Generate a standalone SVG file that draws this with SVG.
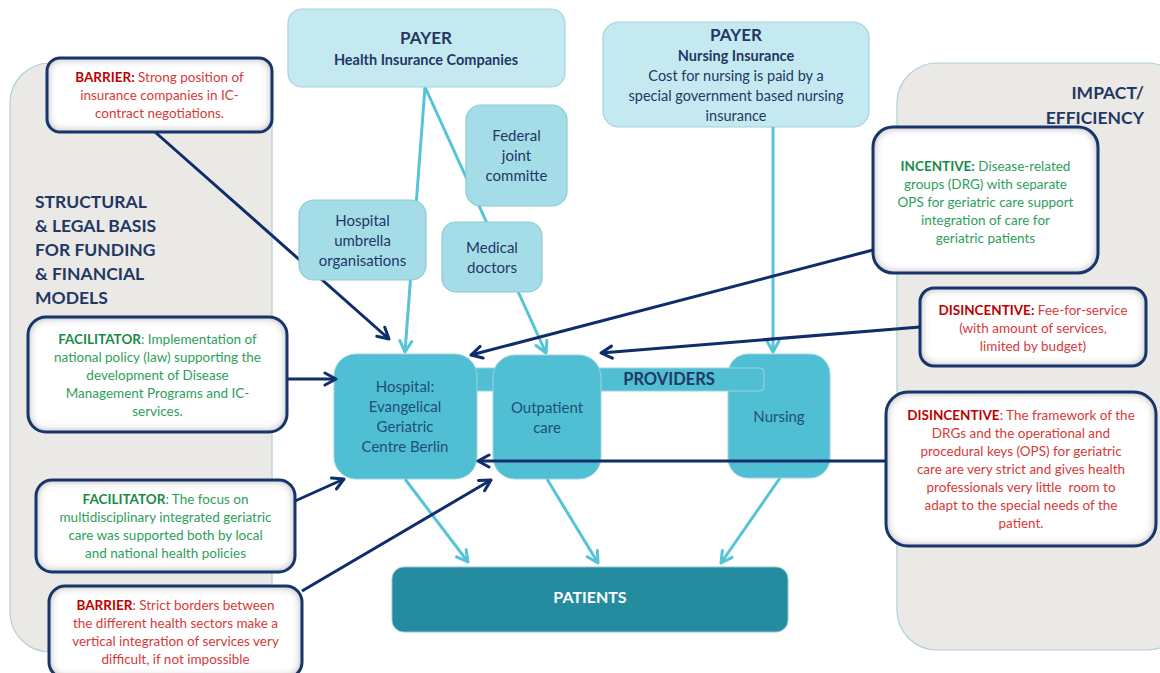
<svg xmlns="http://www.w3.org/2000/svg" width="1160" height="673" viewBox="0 0 1160 673">
<defs>
<style>
text{font-family:Lato,"Liberation Sans",sans-serif;}
.panel{fill:#EBE9E6;stroke:#AFD0D8;stroke-width:1.2;}
.payer{fill:#C5E9F1;stroke:#A3D3DE;stroke-width:1.2;}
.mid{fill:#A4DDE8;stroke:#8DC9D6;stroke-width:1.2;}
.prov{fill:#50BFD3;stroke:#9CD3DE;stroke-width:1;}
.pat{fill:#258C9F;stroke:#8CC6D2;stroke-width:1;}
.note{fill:#FFFFFF;filter:url(#inset);}
.noteb{fill:none;stroke:#17346B;stroke-width:3;}
.navy{fill:#1F3864;}
.pv{fill:#1F4E79;font-size:15px;}
.red{fill:#D63A3A;font-size:13.5px;}
.redb{fill:#C00000;font-weight:bold;}
.grn{fill:#2E9E5B;font-size:13.5px;}
.grnb{fill:#1B8A48;font-weight:bold;}
.lt{stroke:#55C3D8;stroke-width:3;fill:none;marker-end:url(#ah-lt);}
.dk{stroke:#0F2D6B;stroke-width:3;fill:none;marker-end:url(#ah-dk);}
</style>
<filter id="inset" x="-10%" y="-10%" width="120%" height="120%">
<feFlood flood-color="#7A7A7A" result="f"/>
<feComposite in="f" in2="SourceAlpha" operator="out" result="o"/>
<feGaussianBlur in="o" stdDeviation="5" result="b"/>
<feComposite in="b" in2="SourceAlpha" operator="in" result="s"/>
<feMerge><feMergeNode in="SourceGraphic"/><feMergeNode in="s"/></feMerge>
</filter>
<marker id="ah-lt" viewBox="0 0 16 16" refX="14" refY="8" markerWidth="16" markerHeight="16" markerUnits="userSpaceOnUse" orient="auto">
<path d="M3,2 L14,8 L3,14" fill="none" stroke="#55C3D8" stroke-width="3" stroke-linecap="round" stroke-linejoin="round"/>
</marker>
<marker id="ah-dk" viewBox="0 0 16 16" refX="14" refY="8" markerWidth="16" markerHeight="16" markerUnits="userSpaceOnUse" orient="auto">
<path d="M3,2 L14,8 L3,14" fill="none" stroke="#0F2D6B" stroke-width="3" stroke-linecap="round" stroke-linejoin="round"/>
</marker>
</defs>
<rect width="1160" height="673" fill="#FFFFFF"/>

<g id="panel-left">
<rect class="panel" x="10" y="63" width="262" height="589" rx="40"/>
<text class="navy" font-size="17.5" font-weight="bold"><tspan x="35" y="208">STRUCTURAL</tspan><tspan x="35" y="232">&amp; LEGAL BASIS</tspan><tspan x="35" y="256">FOR FUNDING</tspan><tspan x="35" y="280">&amp; FINANCIAL</tspan><tspan x="35" y="304">MODELS</tspan></text>
</g>
<g id="panel-right">
<rect class="panel" x="897" y="63" width="290" height="587" rx="40"/>
<text class="navy" font-size="17.5" font-weight="bold" text-anchor="end"><tspan x="1144" y="99">IMPACT/</tspan><tspan x="1144" y="124">EFFICIENCY</tspan></text>
</g>

<g id="connectors-back">
<line class="lt" x1="425" y1="87" x2="405" y2="352"/>
<line class="lt" x1="425" y1="87" x2="546" y2="353"/>
<line class="dk" x1="155" y1="132" x2="389" y2="339"/>
</g>

<g id="payer-health">
<rect class="payer" x="288" y="9" width="277" height="78" rx="14"/>
<text class="navy" text-anchor="middle" font-weight="bold"><tspan x="426" y="44" font-size="17">PAYER</tspan><tspan x="426" y="65" font-size="14.5">Health Insurance Companies</tspan></text>
</g>
<g id="payer-nursing">
<rect class="payer" x="603" y="22" width="266" height="105" rx="16"/>
<text class="navy" text-anchor="middle"><tspan x="736" y="41" font-size="17" font-weight="bold">PAYER</tspan><tspan x="736" y="61" font-size="14.5" font-weight="bold">Nursing Insurance</tspan><tspan x="736" y="81" font-size="14.5">Cost for nursing is paid by a</tspan><tspan x="736" y="101" font-size="14.5">special government based nursing</tspan><tspan x="736" y="121" font-size="14.5">insurance</tspan></text>
</g>
<g id="federal">
<rect class="mid" x="466" y="105" width="101" height="101" rx="15"/>
<text class="navy" text-anchor="middle" font-size="15"><tspan x="516.5" y="141">Federal</tspan><tspan x="516.5" y="161">joint</tspan><tspan x="516.5" y="181">committe</tspan></text>
</g>
<g id="umbrella">
<rect class="mid" x="299" y="200" width="127" height="80" rx="15"/>
<text class="navy" text-anchor="middle" font-size="15"><tspan x="362.5" y="226">Hospital</tspan><tspan x="362.5" y="246">umbrella</tspan><tspan x="362.5" y="266">organisations</tspan></text>
</g>
<g id="medical">
<rect class="mid" x="442" y="222" width="100" height="70" rx="14"/>
<text class="navy" text-anchor="middle" font-size="15"><tspan x="492" y="253">Medical</tspan><tspan x="492" y="273">doctors</tspan></text>
</g>

<g id="nursing">
<rect class="prov" x="728" y="354" width="102" height="124" rx="20"/>
<text class="pv" text-anchor="middle" x="779" y="422">Nursing</text>
</g>
<g id="providers">
<rect class="prov" x="470" y="368" width="294" height="23" rx="4" stroke="#8FB9C4"/>
<text class="navy" text-anchor="middle" font-size="16.5" font-weight="bold" x="669" y="385">PROVIDERS</text>
</g>
<g id="hospital">
<rect class="prov" x="334" y="354" width="143" height="125" rx="22"/>
<text class="pv" text-anchor="middle"><tspan x="405" y="392">Hospital:</tspan><tspan x="405" y="412">Evangelical</tspan><tspan x="405" y="432">Geriatric</tspan><tspan x="405" y="452">Centre Berlin</tspan></text>
</g>
<g id="outpatient">
<rect class="prov" x="493" y="355" width="108" height="124" rx="22"/>
<text class="pv" text-anchor="middle"><tspan x="547" y="413">Outpatient</tspan><tspan x="547" y="433">care</tspan></text>
</g>
<g id="patients">
<rect class="pat" x="392" y="567" width="396" height="65" rx="12"/>
<text text-anchor="middle" font-size="16" font-weight="bold" fill="#FFFFFF" x="590" y="603">PATIENTS</text>
</g>

<g id="barrier-1">
<rect class="note" x="47" y="58" width="225" height="74" rx="13"/>
<rect class="noteb" x="47" y="58" width="225" height="74" rx="13"/>
<text class="red" text-anchor="middle"><tspan x="159.5" y="82"><tspan class="redb">BARRIER:</tspan> Strong position of</tspan><tspan x="159.5" y="100">insurance companies in IC-</tspan><tspan x="159.5" y="118">contract negotiations.</tspan></text>
</g>
<g id="facilitator-1">
<rect class="note" x="28" y="317" width="259" height="115" rx="18"/>
<rect class="noteb" x="28" y="317" width="259" height="115" rx="18"/>
<text class="grn" text-anchor="middle"><tspan x="157.5" y="344"><tspan class="grnb">FACILITATOR</tspan>: Implementation of</tspan><tspan x="157.5" y="362">national policy (law) supporting the</tspan><tspan x="157.5" y="380">development of Disease</tspan><tspan x="157.5" y="398">Management Programs and IC-</tspan><tspan x="157.5" y="416">services.</tspan></text>
</g>
<g id="facilitator-2">
<rect class="note" x="36" y="480" width="259" height="92" rx="16"/>
<rect class="noteb" x="36" y="480" width="259" height="92" rx="16"/>
<text class="grn" text-anchor="middle"><tspan x="165.5" y="504"><tspan class="grnb">FACILITATOR</tspan>: The focus on</tspan><tspan x="165.5" y="522">multidisciplinary integrated geriatric</tspan><tspan x="165.5" y="540">care was supported both by local</tspan><tspan x="165.5" y="558">and national health policies</tspan></text>
</g>
<g id="barrier-2">
<rect class="note" x="49" y="586" width="253" height="92" rx="16"/>
<rect class="noteb" x="49" y="586" width="253" height="92" rx="16"/>
<text class="red" text-anchor="middle"><tspan x="175.5" y="610"><tspan class="redb">BARRIER</tspan>: Strict borders between</tspan><tspan x="175.5" y="628">the different health sectors make a</tspan><tspan x="175.5" y="646">vertical integration of services very</tspan><tspan x="175.5" y="664">difficult, if not impossible</tspan></text>
</g>
<g id="incentive">
<rect class="note" x="873" y="127" width="225" height="146" rx="20"/>
<rect class="noteb" x="873" y="127" width="225" height="146" rx="20"/>
<text class="grn" text-anchor="middle"><tspan x="985.5" y="171"><tspan class="grnb">INCENTIVE:</tspan> Disease-related</tspan><tspan x="985.5" y="189">groups (DRG) with separate</tspan><tspan x="985.5" y="207">OPS for geriatric care support</tspan><tspan x="985.5" y="225">integration of care for</tspan><tspan x="985.5" y="243">geriatric patients</tspan></text>
</g>
<g id="disincentive-1">
<rect class="note" x="920" y="288" width="226" height="78" rx="14"/>
<rect class="noteb" x="920" y="288" width="226" height="78" rx="14"/>
<text class="red" text-anchor="middle"><tspan x="1033" y="315"><tspan class="redb">DISINCENTIVE:</tspan> Fee-for-service</tspan><tspan x="1033" y="333">(with amount of services,</tspan><tspan x="1033" y="351">limited by budget)</tspan></text>
</g>
<g id="disincentive-2">
<rect class="note" x="886" y="392" width="270" height="154" rx="22"/>
<rect class="noteb" x="886" y="392" width="270" height="154" rx="22"/>
<text class="red" text-anchor="middle"><tspan x="1021" y="420"><tspan class="redb">DISINCENTIVE</tspan>: The framework of the</tspan><tspan x="1021" y="438">DRGs and the operational and</tspan><tspan x="1021" y="456">procedural keys (OPS) for geriatric</tspan><tspan x="1021" y="474">care are very strict and gives health</tspan><tspan x="1021" y="492">professionals very little&#160; room to</tspan><tspan x="1021" y="510">adapt to the special needs of the</tspan><tspan x="1021" y="528">patient.</tspan></text>
</g>

<g id="connectors-front">
<line class="lt" x1="773" y1="127" x2="773" y2="352"/>
<line class="lt" x1="405" y1="479" x2="468" y2="562"/>
<line class="lt" x1="547" y1="479" x2="598" y2="563"/>
<line class="lt" x1="780" y1="478" x2="721" y2="563"/>
<line class="dk" x1="287" y1="379" x2="336" y2="379"/>
<line class="dk" x1="295" y1="501" x2="344" y2="479"/>
<line class="dk" x1="302" y1="591" x2="491" y2="480"/>
<line class="dk" x1="873" y1="250" x2="471" y2="355"/>
<line class="dk" x1="920" y1="327" x2="601" y2="353"/>
<line class="dk" x1="886" y1="461" x2="478" y2="461"/>
</g>
</svg>
